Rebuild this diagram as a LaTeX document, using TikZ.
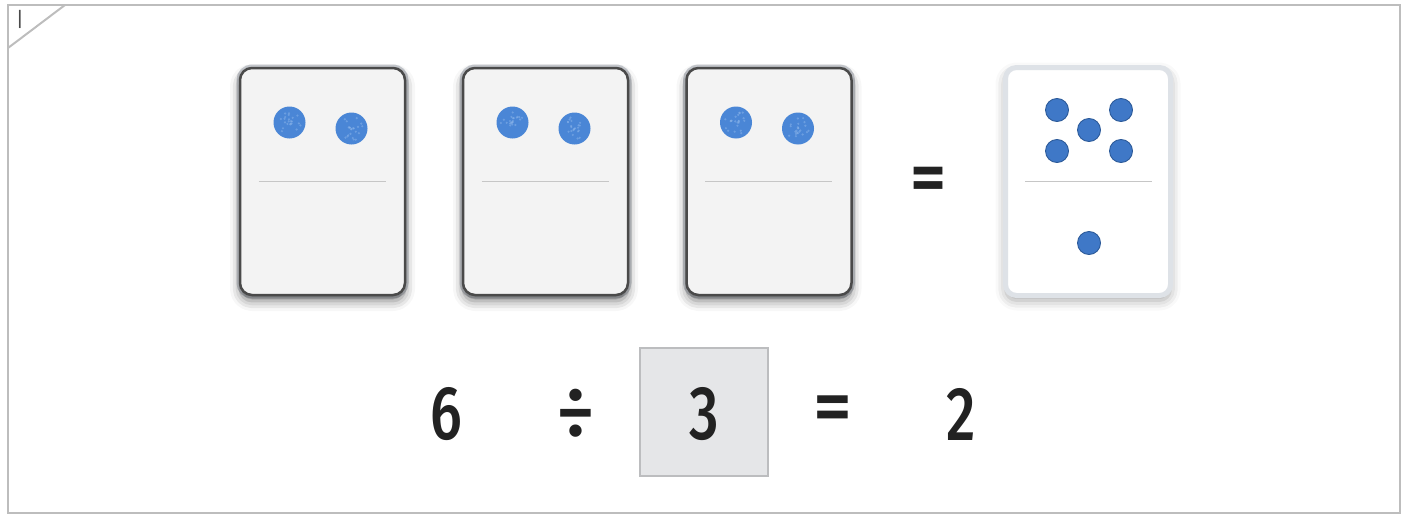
\documentclass[tikz,border=0pt]{standalone}
\usepackage{fontspec}
\setmainfont{Fira Sans}
\newfontfamily\numfont{Fira Sans}[UprightFont=* Medium, BoldFont=* SemiBold]
\usetikzlibrary{shadows.blur,calc}
\definecolor{framegray}{HTML}{BDBDBD}
\definecolor{cardfill}{HTML}{F3F3F3}
\definecolor{cardedge}{HTML}{4A4A4A}
\definecolor{cardring}{HTML}{C9CCD1}
\definecolor{bezel}{HTML}{DEE2E7}
\definecolor{divider}{HTML}{C6C6C6}
\definecolor{chalkblue}{HTML}{4A86D6}
\definecolor{chalklight}{HTML}{8DB6EA}
\definecolor{pipblue}{HTML}{3F78C7}
\definecolor{pipedge}{HTML}{2C5A99}
\definecolor{boxfill}{HTML}{E5E6E8}
\definecolor{boxedge}{HTML}{BCBDBF}
\definecolor{ink}{HTML}{222222}
\tikzset{
  oldcard/.style={draw=cardedge, line width=2.5pt, fill=cardfill, rounded corners=12pt,
    minimum width=165pt, minimum height=227pt, inner sep=0pt,
    preaction={draw=cardring, line width=7pt},
    blur shadow={shadow xshift=0pt, shadow yshift=-6pt, shadow blur radius=10pt, shadow opacity=50}},
  newcard/.style={draw=bezel, line width=5pt, fill=white, rounded corners=11pt,
    minimum width=165pt, minimum height=228pt, inner sep=0pt,
    blur shadow={shadow xshift=0pt, shadow yshift=-5pt, shadow blur radius=10pt, shadow opacity=35}},
  chalk/.style={circle, fill=chalkblue, minimum size=32pt, inner sep=0pt},
  pip/.style={circle, fill=pipblue, draw=pipedge, line width=0.9pt, minimum size=23pt, inner sep=0pt},
  divline/.style={draw=divider, line width=1.2pt},
  bignum/.style={inner sep=0pt, text=ink, font=\fontsize{76}{76}\numfont},
  eqsign/.style={inner sep=0pt, text=ink, font=\fontsize{70}{70}\numfont\bfseries},
  answerbox/.style={draw=boxedge, line width=2pt, fill=boxfill, minimum width=128pt, minimum height=128pt, inner sep=0pt},
}
\newcommand{\chalkdot}[2]{%
  \node[chalk] (#1) at #2 {};
  \foreach \k in {1,...,22} {
    \pgfmathsetmacro{\ang}{rnd*360}
    \pgfmathsetmacro{\rad}{rnd*12}
    \fill[chalklight, opacity=0.5] ($(#1)+(\ang:\rad pt)$) circle (1.2pt);
  }
}
\begin{document}
\begin{tikzpicture}[x=1pt, y=-1pt]
\useasboundingbox (0,0) rectangle (1403,514);
\pgfmathsetseed{7}
% frame
\coordinate (fnw) at (8,5);
\coordinate (fse) at (1400,513);
\draw[framegray, line width=2.5pt] (fnw) rectangle (fse);
\coordinate (ta) at (8,48);
\coordinate (tb) at (65,5);
\draw[framegray, line width=2pt] (ta) -- (tb);
\node[text=cardedge, inner sep=0pt, font=\fontsize{20}{20}\selectfont] (mark) at (20,19.5) {|};

% old cards
\foreach \i/\cx in {1/322.5, 2/545.5, 3/769} {
  \node[oldcard] (card\i) at (\cx,181.5) {};
  \draw[divline] ([xshift=-64pt]card\i.center) -- ([xshift=63pt]card\i.center);
}
\foreach \i in {1,2,3} {
  \chalkdot{d\i a}{($(card\i.center)+(-33,-59)$)}
  \chalkdot{d\i b}{($(card\i.center)+(29,-53)$)}
}

% middle equals
\node[eqsign] (eq1) at (928,184) {=};

% new card
\node[newcard] (card4) at (1088,181.5) {};
\draw[divline] ([xshift=-63pt]card4.center) -- ([xshift=64pt]card4.center);
\node[pip] (p1) at (1057,110) {};
\node[pip] (p2) at (1121,110) {};
\node[pip] (p3) at (1089,130) {};
\node[pip] (p4) at (1057,151) {};
\node[pip] (p5) at (1121,151) {};
\node[pip] (p6) at (1089,243) {};

% equation
\node[bignum] (six) at (446,414) {\scalebox{0.76}[1]{6}};
\node[bignum] (div) at (576,414) {÷};
\node[answerbox] (box) at (704,412) {};
\node[bignum] (three) at (704,414) {\scalebox{0.76}[1]{3}};
\node[bignum] (eq2) at (833,414) {=};
\node[bignum] (two) at (961,414) {\scalebox{0.76}[1]{2}};
\end{tikzpicture}
\end{document}
